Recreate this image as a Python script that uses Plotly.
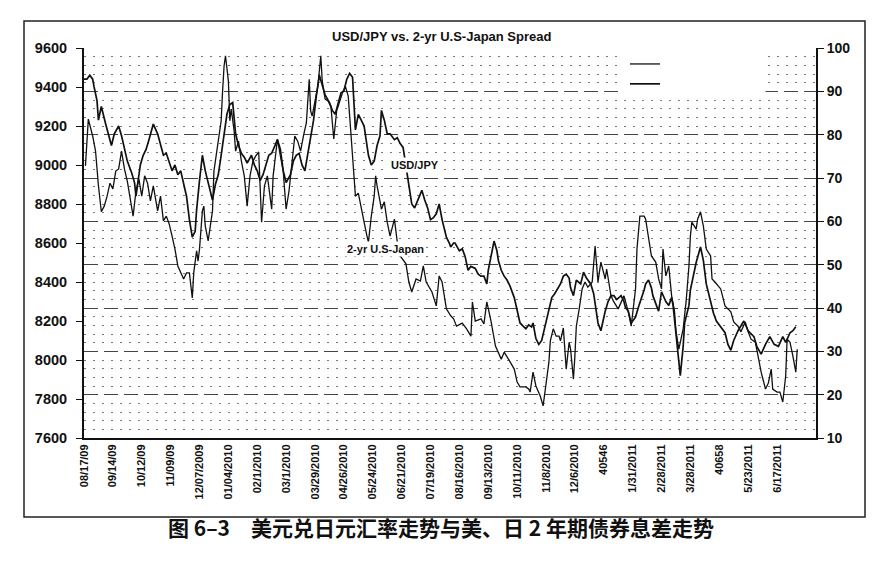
import plotly.graph_objects as go

# x axis: trading-day index, a label every 20 sessions
tick_days = list(range(0, 481, 20))
tick_labels = ["08/17/09", "09/14/09", "10/12/09", "11/09/09", "12/07/2009", "01/04/2010",
               "02/1/2010", "03/1/2010", "03/29/2010", "04/26/2010", "05/24/2010", "06/21/2010",
               "07/19/2010", "08/16/2010", "09/13/2010", "10/11/2010", "11/8/2010", "12/6/2010",
               "40546", "1/31/2011", "2/28/2011", "3/28/2011", "40658", "5/23/2011", "6/17/2011"]

# USD/JPY x100 (left axis)
usd_day = [0, 2, 4, 6, 7, 9, 10, 12, 15, 17, 19, 21, 23, 24, 26, 28, 30, 33, 35, 36,
           37, 39, 41, 43, 45, 47, 48, 51, 53, 55, 57, 59, 61, 63, 65, 67, 69, 71, 73, 75,
           77, 78, 80, 82, 84, 87, 89, 91, 93, 95, 97, 99, 101, 103,
           105, 107, 109, 111, 113, 116, 118, 120, 122, 124, 126, 128, 130, 132, 134, 136, 138, 140, 143, 145,
           147, 149, 151, 153, 155, 157, 159, 161, 163, 165, 167, 170, 172, 174, 176, 178, 180, 182, 184, 186,
           188, 190, 192, 194, 197, 199, 201, 203, 205, 206, 208, 210, 212, 215, 217, 219, 221,
           224, 227, 229, 231, 234, 236, 238, 240, 242, 244, 246, 248, 251, 253, 254, 256, 257, 260, 262, 264,
           266, 268, 271, 273, 275, 277, 279, 280, 282, 284, 286, 287, 289, 291, 293, 295, 298,
           300, 302, 306, 308, 310, 311, 313, 315, 317, 320, 322, 324, 326, 329, 330, 332, 334, 336, 337, 339,
           341, 344, 346, 348, 351, 353, 354, 356, 358, 360, 361, 363, 365, 367, 369, 372, 374, 375, 377, 379,
           382, 384, 385, 388, 389, 391, 393, 394, 397,
           398, 400, 403, 405, 407, 408, 410, 412, 413, 415, 416, 417, 419, 420, 422, 424, 427, 429, 431, 434,
           436, 438, 441, 444, 446, 448, 450, 453, 457, 460, 464, 466, 469, 472, 475, 478, 481, 484, 486, 489,
           491, 493]
usd_val = [9440, 9440, 9460, 9440, 9400, 9330, 9230, 9300, 9210, 9150, 9100, 9160, 9190, 9200, 9150, 9080, 9020, 8960, 8910, 8840,
           8900, 9000, 9050, 9080, 9130, 9180, 9210, 9160, 9100, 9050, 9060, 9020, 8970, 9000, 8950, 8970, 8910, 8840, 8720, 8630,
           8660, 8770, 8920, 9050, 8970, 8870, 8820, 8900, 8950, 9050, 9150, 9260, 9310, 9320,
           9160, 9100, 9060, 9040, 9010, 9050, 9000, 8970, 8920, 8950, 9000, 9050, 9060, 9100, 9130, 9080, 8970, 8910, 8950, 9020,
           9050, 9060, 9000, 8970, 9050, 9150, 9230, 9360, 9460, 9410, 9360, 9320, 9280, 9260, 9310, 9370, 9380, 9440, 9470, 9450,
           9180, 9260, 9230, 9200, 9050, 9000, 9020, 9100, 9150, 9280, 9230, 9160, 9160, 9130, 9140, 9110, 9090,
           8950, 8800, 8780, 8820, 8870, 8820, 8780, 8720, 8730, 8750, 8800, 8720, 8630, 8600, 8580, 8600, 8600, 8560, 8570, 8530,
           8460, 8480, 8470, 8440, 8430, 8430, 8390, 8460, 8530, 8610, 8560, 8510, 8460, 8430, 8410, 8380, 8320,
           8250, 8190, 8160, 8180, 8170, 8190, 8110, 8080, 8100, 8190, 8250, 8320, 8340, 8380, 8390, 8430, 8440, 8420, 8370, 8330,
           8410, 8390, 8450, 8420, 8390, 8340, 8290, 8190, 8150, 8220, 8250, 8300, 8330, 8330, 8310, 8330, 8300, 8270, 8250, 8190,
           8220, 8270, 8290, 8360, 8390, 8410, 8370, 8330, 8270,
           8250, 8350, 8300, 8280, 8320, 8280, 8120, 8000, 7920, 8070, 8190, 8220, 8280, 8360, 8430, 8500, 8580, 8510, 8390, 8300,
           8240, 8200, 8170, 8140, 8080, 8050, 8100, 8150, 8200, 8150, 8120, 8070, 8030, 8080, 8120, 8080, 8070, 8120, 8090, 8140,
           8150, 8170]

# 2-yr U.S.-Japan spread, bp (right axis)
spr_day = [1, 3, 6, 8, 10, 12, 14, 16, 18, 20, 22, 24, 26, 28, 30, 33, 34, 36, 38, 40,
           42, 44, 46, 48, 51, 53, 55, 57, 59, 61, 63, 65, 67, 69, 71, 73, 75, 76, 78, 79,
           80, 82, 83, 84, 86, 87, 89, 90, 92, 93, 95, 96, 97, 98, 100, 101, 102, 104, 105, 107,
           109, 111, 113, 115, 117, 119, 121, 123, 125, 127, 129, 130, 131, 134, 136, 138, 139, 140, 142, 144,
           146, 148, 150, 152, 154, 156, 157, 158, 160, 162, 164, 165, 167, 169, 171, 173, 175, 177, 179, 181,
           183, 185, 187, 188, 190, 192, 194, 196, 197, 199, 201, 202, 203, 206, 208, 210, 212, 215, 217, 219,
           223, 225, 227, 230, 233, 235, 237, 241, 244, 246, 248, 251, 254, 256, 258, 262, 265, 268, 269, 271,
           275, 277, 279, 282, 285, 289, 291, 294, 298, 300, 302, 306, 308, 309, 311, 313, 316, 318, 320, 322,
           323, 325, 327, 329, 330, 332, 334, 336, 337, 338, 339, 340, 341, 343, 345, 347, 349, 352, 354, 356,
           358, 361, 362, 365, 367, 370, 374, 377, 379, 382, 383, 385, 388, 389, 391, 393, 396, 398, 400, 401,
           403, 405, 407, 409, 410, 412, 415, 417, 419, 420, 421, 424, 425, 427, 429, 430, 431, 434, 435, 437,
           441, 444, 448, 450, 453, 455, 458, 460, 462, 465, 467, 469, 472, 474, 476, 477, 480, 482, 484, 486,
           487, 489, 491, 493, 494]
spr_val = [72.8, 83.6, 79.7, 76.2, 68.2, 62.2, 63.5, 65.8, 68.8, 67.5, 71.6, 72.1, 76.2, 72.1, 69.3, 63.5, 61.2, 67.0, 69.8, 65.8,
           70.5, 68.8, 64.7, 68.2, 62.4, 65.8, 60.1, 61.2, 59.4, 56.6, 53.6, 49.7, 48.1, 46.7, 48.1, 48.1, 42.3, 48.1, 53.2, 50.8,
           53.6, 62.4, 63.5, 58.9, 55.5, 57.5, 62.4, 71.6, 76.2, 79.7, 83.2, 90.1, 95.8, 98.2, 92.4, 83.2, 85.9, 80.8, 76.2, 78.5,
           73.9, 70.5, 63.5, 70.5, 73.9, 75.1, 76.0, 59.8, 68.2, 70.5, 65.8, 62.8, 70.5, 79.0, 75.1, 71.6, 67.0, 62.8, 67.0, 72.8,
           79.7, 78.5, 76.2, 79.7, 82.7, 92.8, 85.5, 84.3, 88.2, 91.2, 98.2, 92.4, 88.2, 87.8, 86.6, 79.0, 85.5, 87.8, 89.6, 91.2,
           88.9, 79.7, 71.6, 65.8, 66.5, 63.5, 59.8, 56.6, 55.2, 61.2, 65.8, 70.5, 68.2, 62.8, 64.5, 59.8, 56.6, 60.5, 55.2, 52.0,
           50.2, 46.0, 43.7, 46.7, 46.2, 49.7, 46.0, 43.7, 40.5, 47.4, 46.0, 39.8, 38.2, 37.5, 35.8, 36.5, 35.2, 33.5, 41.4, 37.0,
           37.5, 36.3, 41.4, 36.8, 31.2, 28.2, 29.8, 28.2, 25.9, 22.9, 21.8, 21.8, 21.3, 20.6, 25.2, 22.0, 19.7, 17.4, 22.9, 27.5,
           32.4, 35.2, 33.5, 33.5, 32.4, 35.4, 25.9, 32.1, 30.5, 25.9, 23.6, 28.9, 35.8, 39.8, 44.4, 46.0, 44.8, 46.0, 54.3, 46.0,
           50.6, 46.7, 49.0, 42.8, 41.4, 39.8, 42.8, 39.1, 35.8, 44.4, 53.6, 61.2, 61.2, 60.5, 56.6, 52.0, 50.6, 46.7, 44.4, 53.6,
           47.4, 49.7, 42.8, 39.3, 34.7, 30.5, 35.2, 41.4, 49.7, 56.6, 59.8, 58.2, 60.5, 62.2, 58.9, 56.6, 53.6, 52.0, 46.7, 46.0,
           44.4, 40.5, 39.1, 36.8, 35.8, 34.5, 36.8, 34.5, 32.8, 32.1, 28.9, 25.2, 21.3, 22.7, 25.9, 21.3, 20.6, 20.6, 18.3, 24.3,
           32.8, 32.1, 28.9, 25.2, 30.5]

FONT = "Liberation Sans, Arial, sans-serif"

fig = go.Figure()
fig.add_trace(go.Scatter(x=usd_day, y=usd_val, mode="lines", name=" ",
                         line=dict(color="#111111", width=1.7), yaxis="y"))
fig.add_trace(go.Scatter(x=spr_day, y=spr_val, mode="lines", name="  ",
                         line=dict(color="#111111", width=1.3), yaxis="y2"))

# outer frame of the chart
fig.add_shape(type="rect", xref="paper", yref="paper",
              x0=(16 - 76) / 732, x1=(857 - 76) / 732,
              y0=(430 - 509) / 390, y1=(430 - 13) / 390,
              line=dict(color="#222222", width=1.5), fillcolor="rgba(0,0,0,0)", layer="above")
# white legend box (covers the grid, not the lines)
fig.add_shape(type="rect", xref="x", yref="y", x0=372, x1=472, y0=9340, y1=9585,
              fillcolor="white", line=dict(width=0), layer="between")

fig.add_annotation(x=229, y=9000, xref="x", yref="y", text="<b>USD/JPY</b>",
                   showarrow=False, bgcolor="white", font=dict(family=FONT, size=11, color="#111"))
fig.add_annotation(x=209, y=8570, xref="x", yref="y", text="<b>2-yr U.S-Japan</b>",
                   showarrow=False, bgcolor="white", font=dict(family=FONT, size=11, color="#111"))
fig.add_annotation(x=(433 - 76) / 732, y=(430 - 536) / 390, xref="paper", yref="paper",
                   text="<b>图 6–3　美元兑日元汇率走势与美、日 2 年期债券息差走势</b>",
                   showarrow=False,
                   font=dict(family="Noto Sans CJK SC", size=21, color="#111"))

fig.update_layout(
    width=887, height=563,
    margin=dict(l=76, r=79, t=40, b=133),
    paper_bgcolor="white", plot_bgcolor="white",
    title=dict(text="<b>USD/JPY vs. 2-yr U.S-Japan Spread</b>", x=0.489, xanchor="center",
               y=1 - 28 / 563, yanchor="middle", font=dict(family=FONT, size=13, color="#111")),
    showlegend=True,
    legend=dict(x=(617 - 76) / 732, y=(430 - 41) / 390, xanchor="left", yanchor="top",
                bgcolor="rgba(0,0,0,0)", itemwidth=30, tracegroupgap=0, traceorder="reversed",
                font=dict(family=FONT, size=13)),
    xaxis=dict(range=[0, 507], tickmode="array", tickvals=tick_days, ticktext=tick_labels,
               tickangle=-90, tickfont=dict(family=FONT, size=11, color="#111", weight="bold"),
               showgrid=False, zeroline=False, showline=True, linecolor="#111", linewidth=2,
               ticks=""),
    yaxis=dict(range=[7600, 9600], dtick=200, showgrid=False, zeroline=False,
               showline=True, linecolor="#111", linewidth=2, ticks="outside", ticklen=6,
               tickcolor="#111", ticklabelstandoff=6,
               tickfont=dict(family=FONT, size=14.5, color="#111", weight="bold")),
    yaxis2=dict(range=[10, 100], dtick=10, overlaying="y", side="right",
                showgrid=True, gridcolor="#444", gridwidth=1, griddash="14px,6px",
                zeroline=False, showline=True, linecolor="#111", linewidth=2,
                ticks="outside", ticklen=6, tickcolor="#111",
                tickfont=dict(family=FONT, size=14, color="#111", weight="bold"),
                minor=dict(dtick=2, showgrid=True, gridcolor="#777", gridwidth=1, griddash="2px,7px")),
)

fig.write_html("out.html")
